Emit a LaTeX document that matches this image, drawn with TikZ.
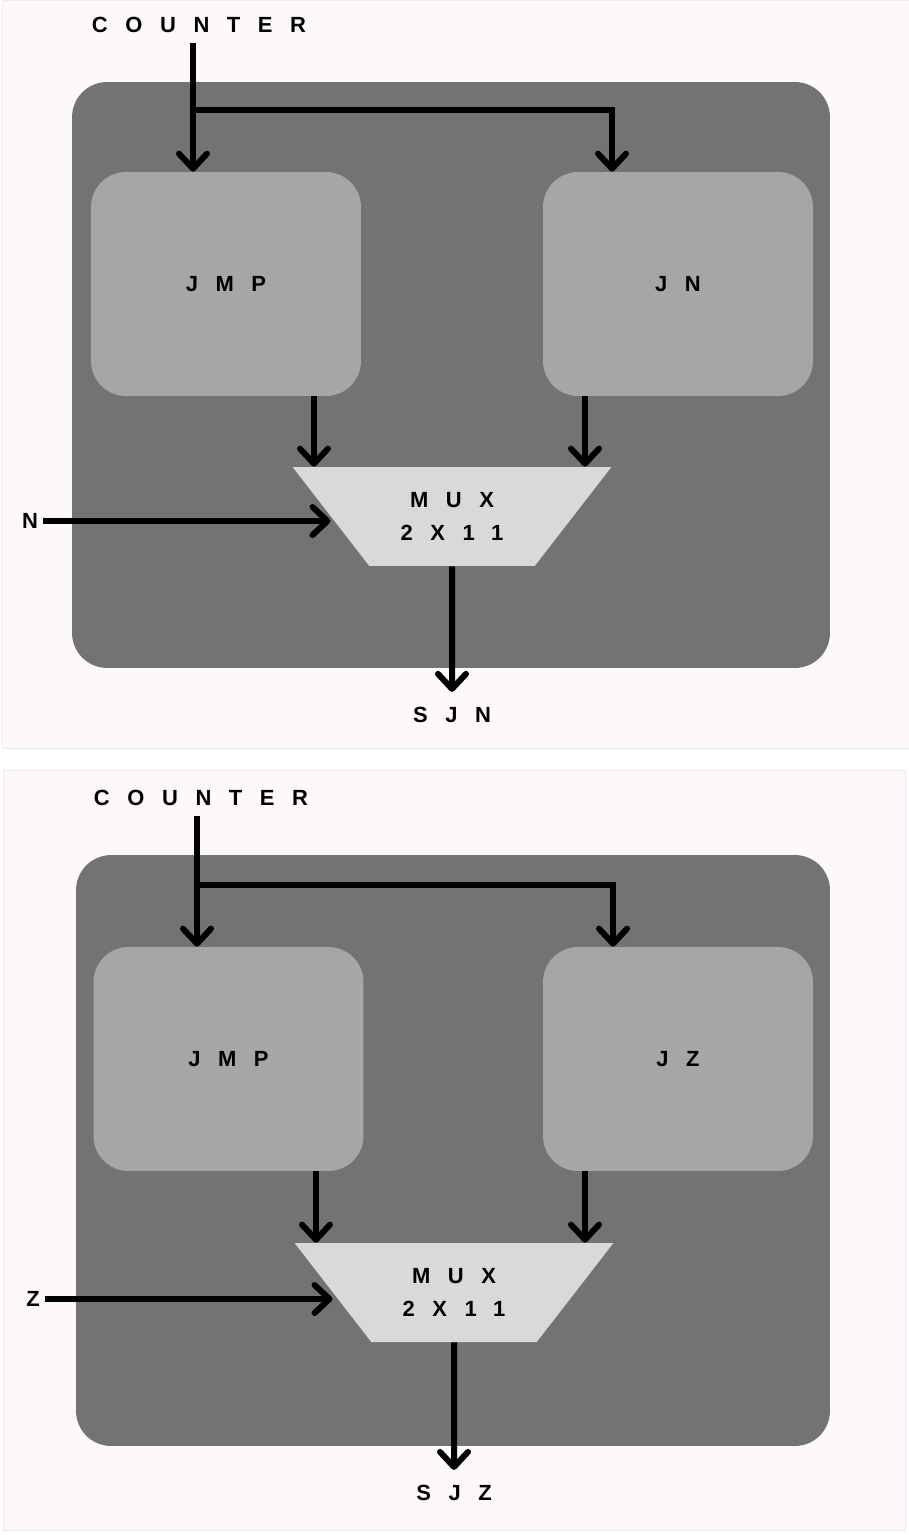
\documentclass[tikz,border=0pt]{standalone}
\usepackage{fontspec}
\newfontfamily\lblfont[LetterSpace=80]{Liberation Sans}
\usetikzlibrary{arrows.meta,shapes.geometric}

\definecolor{paper}{HTML}{FDF9F8}
\definecolor{boardgray}{HTML}{737373}
\definecolor{unitgray}{HTML}{A6A6A6}
\definecolor{muxgray}{HTML}{D9D9D9}

\begin{document}
\begin{tikzpicture}[x=0.02cm,y=-0.02cm,
    lbl/.style={font=\lblfont\bfseries\fontsize{12.5}{18.8}\selectfont, inner sep=0pt},
    board/.style={fill=boardgray, rounded corners=0.7cm, minimum width=15.16cm, minimum height=11.72cm},
    unitbox/.style={lbl, fill=unitgray, rounded corners=0.7cm, minimum width=5.4cm, minimum height=4.48cm},
    muxbox/.style={lbl, align=center, fill=muxgray, trapezium, trapezium stretches=true,
        shape border rotate=180, trapezium angle=45.3, minimum width=6.38cm, minimum height=1.98cm},
    wire/.style={line width=0.12cm},
    arr/.style={wire, -{Straight Barb[length=0.3cm,width=0.56cm,round]}}]

    \useasboundingbox (0,0) rectangle (909,1535);

	% upper panel
	\filldraw[fill=paper, draw=black!8] (2,0) rectangle (909,748);
	\node[board] (board1) at (451,375) {};
	\node[unitbox] (jmp1) at (226,284) {JMP};
	\node[unitbox] (jn) at (678,284) {JN};
	\node[muxbox] (mux1) at (452,516.5) {MUX\\2X11};
	\node[lbl] (counter1) at (199,25) {COUNTER};
	\node[lbl] (nin) at (30,521) {N};
	\node[lbl] (sjn) at (452,715) {SJN};

	\coordinate (split1) at (193,110);
	\draw[arr] ([yshift=-0.2cm]counter1.south -| split1) -- (split1 |- jmp1.north);
	\draw[arr] (split1) -| ([xshift=-1.32cm]jn.north);
	\draw[arr] ([xshift=1.76cm]jmp1.south) -- ([xshift=1.76cm]jmp1.south |- mux1.north);
	\draw[arr] ([xshift=-1.86cm]jn.south) -- ([xshift=-1.86cm]jn.south |- mux1.north);
	\draw[arr] ([xshift=0.1cm]nin.east) -- (nin.east -| mux1.west);
	\draw[arr] (mux1.south) -- ([yshift=0.3cm]sjn.north);

	% lower panel
	\filldraw[fill=paper, draw=black!8] (3,770) rectangle (905,1530);
	\node[board, minimum width=15.08cm, minimum height=11.82cm] (board2) at (453,1150.5) {};
	\node[unitbox] (jmp2) at (228.5,1059) {JMP};
	\node[unitbox] (jz) at (678,1059) {JZ};
	\node[muxbox] (mux2) at (454,1292.5) {MUX\\2X11};
	\node[lbl] (counter2) at (201,798) {COUNTER};
	\node[lbl] (zin) at (33,1299) {Z};
	\node[lbl] (sjz) at (454,1493) {SJZ};

	\coordinate (split2) at (197,885);
	\draw[arr] ([yshift=-0.2cm]counter2.south -| split2) -- (split2 |- jmp2.north);
	\draw[arr] (split2) -| ([xshift=-1.3cm]jz.north);
	\draw[arr] ([xshift=1.75cm]jmp2.south) -- ([xshift=1.75cm]jmp2.south |- mux2.north);
	\draw[arr] ([xshift=-1.86cm]jz.south) -- ([xshift=-1.86cm]jz.south |- mux2.north);
	\draw[arr] ([xshift=0.1cm]zin.east) -- (zin.east -| mux2.west);
	\draw[arr] (mux2.south) -- ([yshift=0.3cm]sjz.north);
    \end{tikzpicture}
\end{document}
